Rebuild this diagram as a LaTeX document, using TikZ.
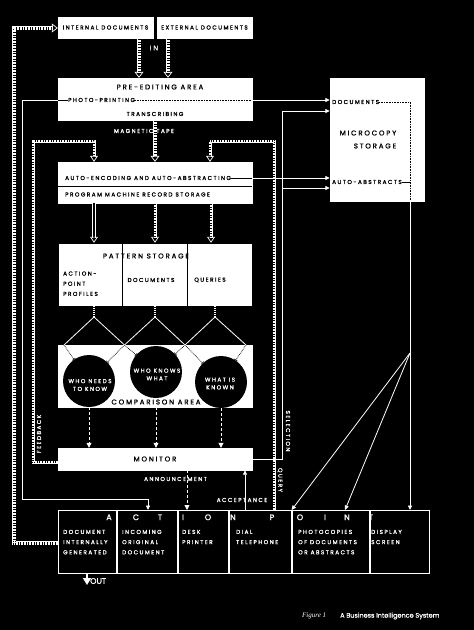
\documentclass[tikz,border=0pt]{standalone}
\usepackage{fontspec}
\setmainfont{Poppins}
\newfontfamily\lblfont[LetterSpace=26, FakeBold=1.3]{Poppins}
\newfontfamily\plainfont[FakeBold=1]{Poppins}
\newfontfamily\capfont{Liberation Serif}
\usetikzlibrary{arrows.meta}

\newcommand{\lblsize}{\lblfont\fontsize{5.7}{10.2}\selectfont}
\newcommand{\bigsize}{\lblfont\fontsize{7}{8}\selectfont}
\newcommand{\circsize}{\lblfont\fontsize{5.7}{7.8}\selectfont}
\newcommand{\letsize}{\lblfont\fontsize{8}{9}\selectfont}

\begin{document}
\begin{tikzpicture}[x=1pt, y=-1pt,
    every node/.style={inner sep=0pt, font=\lblsize},
    wbox/.style={draw=white, fill=white, text=black},
    pcell/.style={draw=black, fill=white, line width=0.5pt, minimum width=64.67pt, minimum height=63pt},
    acell/.style={draw=white, fill=black, line width=0.9pt, minimum height=63pt, anchor=north west},
    circ/.style={circle, fill=black, minimum size=52pt},
    blbl/.style={text=black},
    wlbl/.style={text=white},
    wline/.style={draw=white, line width=0.8pt},
    bline/.style={draw=black, line width=0.6pt},
    bdot/.style={draw=black, line width=0.7pt, dash pattern=on 0.7pt off 0.9pt},
    wdot/.style={draw=white, line width=1.2pt, dash pattern=on 1pt off 1pt},
    warrow/.style={wline, -{Triangle[length=4.5pt, width=4pt]}},
    dasharrow/.style={wline, dash pattern=on 3pt off 2pt, -{Triangle[length=5pt, width=5pt]}},
    bdotbar/.style={bdot, -{Bar[width=4pt, line width=0.6pt]}},
    ladder/.style={preaction={draw=white, line width=0.5pt, double=black, double distance=3pt, arrows=-, shorten >=5pt},
      draw=white, line width=4pt, dash pattern=on 0.7pt off 0.9pt,
      -{Triangle[open, length=6pt, width=9pt, line width=0.7pt]}},
    thinladder/.style={preaction={draw=white, line width=0.4pt, double=black, double distance=2.2pt, arrows=-, shorten >=5pt},
      draw=white, line width=3pt, dash pattern=on 0.7pt off 0.9pt,
      -{Triangle[open, length=6pt, width=8pt, line width=0.7pt]}},
    hollow/.style={preaction={draw=white, line width=0.5pt, double=black, double distance=2.5pt, arrows=-, shorten >=5pt},
      draw=black, line width=0.1pt,
      -{Triangle[open, color=white, length=6pt, width=8pt, line width=0.7pt]}}]

  % ground
  \fill[black] (0,0) rectangle (474,630);
  \useasboundingbox (0,0) rectangle (474,630);

  % input documents
  \node[wbox, minimum width=95pt, minimum height=21pt] (intdoc) at (105.5,27.5) {INTERNAL DOCUMENTS};
  \node[wbox, minimum width=95pt, minimum height=21pt] (extdoc) at (204.5,27.5) {EXTERNAL DOCUMENTS};
  \node[wlbl, font=\bigsize] (intext) at (154,48) {IN};

  % pre-editing area
  \node[wbox, minimum width=194pt, minimum height=42pt] (preedit) at (155,99) {};
  \node[blbl, font=\bigsize] (pretitle) at (160,87) {PRE-EDITING AREA};
  \node[blbl, anchor=west] (photo) at (68,100) {PHOTO-PRINTING};
  \node[blbl] (transc) at (155,114) {TRANSCRIBING};
  \node[wlbl] (magtape) at (144,131) {MAGNETIC TAPE};

  % auto-encoding
  \node[wbox, minimum width=194pt, minimum height=24pt] (autoenc) at (155,174) {};
  \node[wbox, minimum width=194pt, minimum height=17pt] (progstore) at (155,194.5) {};
  \draw[bline] (progstore.north west) -- (progstore.north east);
  \node[blbl, anchor=west] (autotxt) at (65,178) {AUTO-ENCODING AND AUTO-ABSTRACTING};
  \node[blbl, anchor=west] (progtxt) at (65,194.5) {PROGRAM MACHINE RECORD STORAGE};

  % microcopy storage
  \node[wbox, minimum width=94pt, minimum height=123pt] (micro) at (377,139.5) {};
  \node[blbl, anchor=west] (mcdoc) at (332,102) {DOCUMENTS};
  \node[blbl, font=\bigsize] (mctitle) at (368,133) {MICROCOPY};
  \node[blbl, font=\bigsize] (mcstore) at (375,146) {STORAGE};
  \node[blbl, anchor=west] (mcabs) at (332,182) {AUTO-ABSTRACTS};

  % pattern storage
  \node[pcell] (pat1) at (90.33,274.5) {};
  \node[pcell] (pat2) at (155,274.5) {};
  \node[pcell] (pat3) at (219.67,274.5) {};
  \node[blbl, font=\bigsize] (pattitle) at (146,256) {PATTERN STORAGE};
  \node[blbl, anchor=north west, align=left] (pat1t) at (63,271.3) {ACTION-\\POINT\\PROFILES};
  \node[blbl] (pat2t) at (151,280) {DOCUMENTS};
  \node[blbl] (pat3t) at (210,280) {QUERIES};

  % comparison area
  \node[wbox, minimum width=194pt, minimum height=62pt] (comp) at (155,376) {};
  \node[circ] (who1) at (89,381) {};
  \node[circ] (who2) at (156,372) {};
  \node[circ] (who3) at (221,382) {};
  \node[wlbl, align=center, font=\circsize] (who1t) at (90,385) {WHO NEEDS\\TO KNOW};
  \node[wlbl, align=center, font=\circsize] (who2t) at (157,374.5) {WHO KNOWS\\WHAT};
  \node[wlbl, align=center, font=\circsize] (who3t) at (220,383.5) {WHAT IS\\KNOWN};
  \node[blbl, font=\bigsize] (comptxt) at (156,402) {COMPARISON AREA};

  % monitor
  \node[wbox, minimum width=194pt, minimum height=22pt, font=\bigsize] (monitor) at (155,459) {MONITOR};

  % action point
  \node[acell, minimum width=58pt] (act1) at (58,510) {};
  \node[acell, minimum width=60pt] (act2) at (act1.north east) {};
  \node[acell, minimum width=50pt] (act3) at (act2.north east) {};
  \node[acell, minimum width=62pt] (act4) at (act3.north east) {};
  \node[acell, minimum width=77pt] (act5) at (act4.north east) {};
  \node[acell, minimum width=59pt] (act6) at (act5.north east) {};
  \foreach \ch/\x [count=\i] in {A/109, C/136, T/160, I/183, O/208, N/233, P/272, O/300, I/325, N/347, T/371}
    \node[wlbl, font=\letsize] (let\i) at (\x,517.3) {\ch};
  \node[wlbl, anchor=north west, align=left] (act1t) at (63,529.7) {DOCUMENT\\INTERNALLY\\GENERATED};
  \node[wlbl, anchor=north west, align=left] (act2t) at (122,529.7) {INCOMING\\ORIGINAL\\DOCUMENT};
  \node[wlbl, anchor=north west, align=left] (act3t) at (182,529.7) {DESK\\PRINTER};
  \node[wlbl, anchor=north west, align=left] (act4t) at (236,529.7) {DIAL\\TELEPHONE};
  \node[wlbl, anchor=north west, align=left] (act5t) at (298,529.7) {PHOTOCOPIES\\OF DOCUMENTS\\OR ABSTRACTS};
  \node[wlbl, anchor=north west, align=left] (act6t) at (371,529.7) {DISPLAY\\SCREEN};

  % line labels
  \node[wlbl] (announce) at (175.5,479) {ANNOUNCEMENT};
  \node[wlbl] (accept) at (242,500) {ACCEPTANCE};
  \node[wlbl, rotate=90] (feedback) at (39,434) {FEEDBACK};
  \node[wlbl, rotate=-90] (select) at (288,431) {SELECTION};
  \node[wlbl, rotate=-90] (query) at (280,480) {QUERY};

  % hatched channels
  \coordinate (looptop) at (14,28);
  \draw[ladder] (act1.west |- 0,543) -| (looptop) -- (intdoc.west |- looptop);
  \draw[ladder] (intdoc.south -| 139,0) -- (preedit.north -| 139,0);
  \draw[ladder] (extdoc.south -| 168,0) -- (preedit.north -| 168,0);
  \draw[ladder] (preedit.south) -- (autoenc.north);
  \coordinate (fbtop) at (33,141);
  \draw[thinladder] (monitor.west |- 0,462) -| (fbtop) -| (autoenc.north -| 94,0);
  \coordinate (qtop) at (274,141);
  \draw[thinladder] (act4.north -| qtop) -- (qtop) -| (autoenc.north -| 210,0);
  \draw[hollow] (progstore.south -| 94,0) -- (pat1.north -| 94,0);
  \draw[thinladder] (progstore.south) -- (pat2.north);
  \draw[thinladder] (progstore.south -| 211,0) -- (pat3.north -| 211,0);

  % lines inside the boxes
  \draw[bline] (preedit.west |- photo) -- (photo.west);
  \draw[bdot] (photo.east) -- (preedit.east |- photo);
  \draw[bline] (autotxt.east) -- (autoenc.east |- autotxt);
  \draw[bdot] (mcdoc.east) -- (mcdoc.east -| 410,0) -- (micro.south -| 410,0);
  \draw[bline] (mcabs.east) -- (mcabs.east -| 410,0);

  % photo-printing and abstracts
  \draw[warrow] (preedit.east |- photo) -- (micro.west |- photo);
  \draw[warrow] (autoenc.east |- autotxt) -- (micro.west |- autotxt);
  \coordinate (ppcorner) at (22,499);
  \draw[warrow] (preedit.west |- photo) -| (ppcorner) -| (act2.north -| 148,0);

  % selection
  \coordinate (seltop) at (282,111);
  \draw[warrow] (monitor.east) -| (seltop) -- (micro.west |- seltop);
  \draw[warrow] (seltop |- 0,188) -- (micro.west |- 0,188);

  % microcopy to action point
  \coordinate (fan) at (410,353);
  \draw[wline] (micro.south -| fan) -- (fan);
  \draw[warrow] (fan) -- (act4.north east);
  \draw[warrow] (fan) -- (act5.north -| 345,0);
  \draw[warrow] (fan) -- (act6.north -| fan);

  % pattern storage to comparison
  \coordinate (apex1) at (94,317);
  \coordinate (apex2) at (155,317);
  \coordinate (apex3) at (215,317);
  \draw[wdot] (pat1.south -| apex1) -- (apex1);
  \draw[wdot] (pat2.south -| apex2) -- (apex2);
  \draw[wdot] (pat3.south -| apex3) -- (apex3);
  \coordinate (xl) at (64,345);
  \coordinate (x12) at (124.5,345);
  \coordinate (x23) at (185,345);
  \coordinate (xr) at (246,345);
  \draw[wline] (xl) -- (apex1) -- (x12) -- (apex2) -- (x23) -- (apex3) -- (xr);
  \draw[bdotbar] (xl) -- (who1);
  \draw[bdotbar] (x12) -- (who1);
  \draw[bdotbar] (x12) -- (who2);
  \draw[bdotbar] (x23) -- (who2);
  \draw[bdotbar] (x23) -- (who3);
  \draw[bdotbar] (xr) -- (who3);

  % comparison to monitor
  \draw[dasharrow] (who1.south) -- (monitor.north -| who1);
  \draw[dasharrow] (comp.south -| who2) -- (monitor.north -| who2);
  \draw[dasharrow] (who3.south) -- (monitor.north -| who3);

  % monitor and action point
  \draw[dasharrow] (monitor.south -| 187,0) -- (act3.north -| 187,0);
  \draw[warrow] (act4.north -| 245,0) -- (monitor.south -| 245,0);

  % out
  \coordinate (outend) at (87,585);
  \draw[wline, line width=1.5pt, -{Triangle[length=7pt, width=8pt]}] (act1.south -| outend) -- (outend);
  \node[wlbl, font=\plainfont\fontsize{8}{9}\selectfont, anchor=west] (outtxt) at (90,581) {OUT};

  % caption
  \node[wlbl, font=\capfont\itshape\fontsize{7}{8}\selectfont, anchor=west] (fignum) at (302,616) {Figure 1};
  \node[wlbl, font=\plainfont\fontsize{6.5}{8}\selectfont, anchor=west] (figcap) at (340,616) {A Business Intelligence System};
\end{tikzpicture}
\end{document}
